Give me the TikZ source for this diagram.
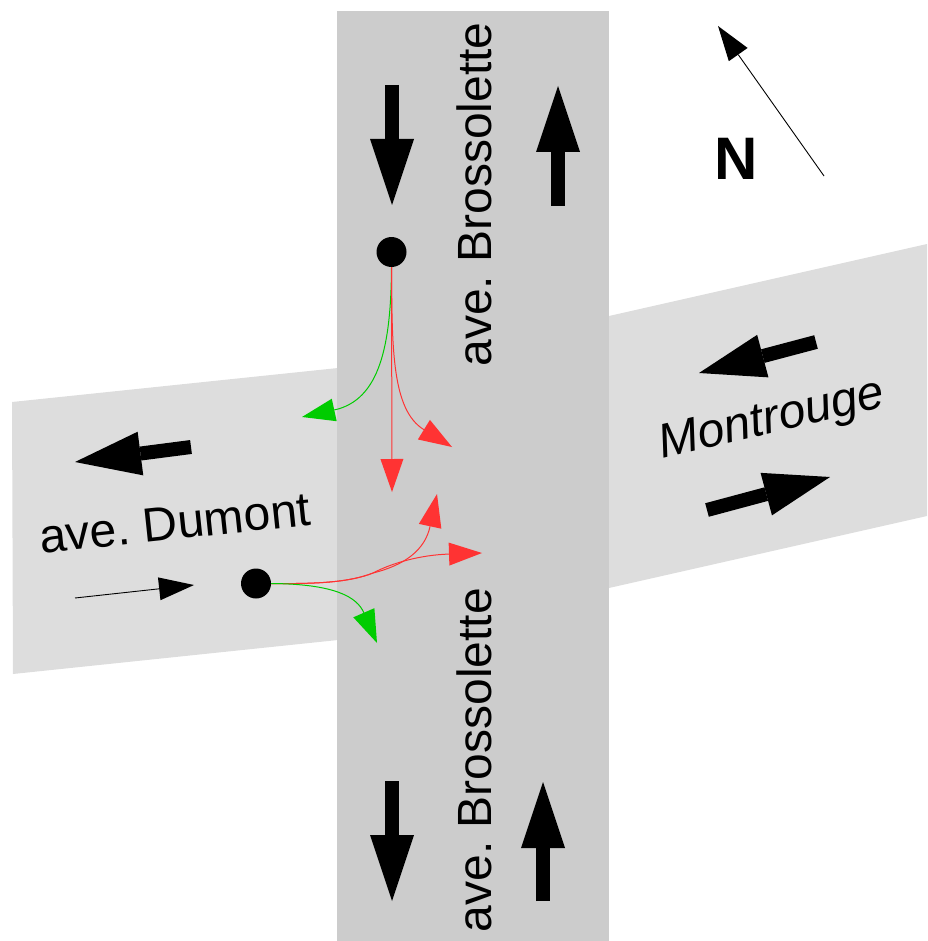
\documentclass[tikz,border=0pt]{standalone}
\usepackage{fontspec}
\setmainfont{Liberation Sans}[ItalicFont={Liberation Sans Italic},BoldFont={Liberation Sans Bold}]
\usetikzlibrary{arrows.meta}
\definecolor{roadmain}{HTML}{CCCCCC}
\definecolor{roadside}{HTML}{DDDDDD}
\definecolor{turnred}{HTML}{FF3333}
\definecolor{turngreen}{HTML}{00CC00}
\tikzset{
  bigarrow/.style={draw=black,line width=14pt,-{Triangle[length=66pt,width=44pt,line width=0pt]}},
  thinarrow/.style={draw=black,line width=0.9pt,-{Triangle[length=35pt,width=23pt,line width=0pt]}},
  redturn/.style={draw=turnred,line width=1pt,-{Triangle[length=33pt,width=23pt,line width=0pt,fill=turnred]}},
  greenturn/.style={draw=turngreen,line width=1pt,-{Triangle[length=33pt,width=23pt,line width=0pt,fill=turngreen]}},
  dotnode/.style={circle,fill=black,minimum size=30pt,inner sep=0pt},
  label/.style={inner sep=0pt,font=\fontsize{48pt}{50pt}\selectfont},
}
\begin{document}
\frenchspacing
\begin{tikzpicture}[x=1pt,y=-1pt]
\useasboundingbox (0,0) rectangle (927,941);
% roads
\fill[roadside] (12,402) -- (338,368) -- (338,640) -- (13,674) -- cycle;
\fill[roadside] (609,316) -- (927,244) -- (927,516) -- (609,588) -- cycle;
\fill[roadmain] (337,11) rectangle (609,941);
% labels
\node[label,rotate=90] (t1) at (474,194.5) {ave. Brossolette};
\node[label,rotate=90] (t2) at (474,760) {ave. Brossolette};
\node[label,rotate=6] (t3) at (175,523) {ave. Dumont};
\node[label,rotate=13,font=\fontsize{48pt}{50pt}\selectfont\itshape] (t4) at (772,421) {Montrouge};
\node[inner sep=0pt,font=\fontsize{60pt}{60pt}\selectfont\bfseries] (t5) at (736,159) {N};
% big arrows
\coordinate (a1s) at (392,85);   \coordinate (a1e) at (392,205);
\coordinate (a2s) at (558,206);  \coordinate (a2e) at (558,86);
\coordinate (a3s) at (392,781);  \coordinate (a3e) at (392,901);
\coordinate (a4s) at (543,901);  \coordinate (a4e) at (543,782);
\coordinate (a5s) at (191,447);  \coordinate (a5e) at (75,462);
\coordinate (a6s) at (816,342);  \coordinate (a6e) at (699,373);
\coordinate (a7s) at (707,510);  \coordinate (a7e) at (830,477);
\draw[bigarrow] (a1s) -- (a1e);
\draw[bigarrow] (a2s) -- (a2e);
\draw[bigarrow] (a3s) -- (a3e);
\draw[bigarrow] (a4s) -- (a4e);
\draw[bigarrow] (a5s) -- (a5e);
\draw[bigarrow] (a6s) -- (a6e);
\draw[bigarrow] (a7s) -- (a7e);
% thin arrows
\coordinate (n1) at (824,176);  \coordinate (n2) at (718,26);
\coordinate (w1) at (75,598);   \coordinate (w2) at (194,585);
\draw[thinarrow] (n1) -- (n2);
\draw[thinarrow] (w1) -- (w2);
% dots
\node[dotnode] (d1) at (391.5,252) {};
\node[dotnode] (d2) at (256,583.5) {};
% turn ends
\coordinate (g1) at (302,417);
\coordinate (r1) at (452,447);
\coordinate (r2) at (392,492);
\coordinate (r3) at (437,494);
\coordinate (r4) at (482,553);
\coordinate (r5) at (373,573);
\coordinate (g2) at (377,643);
% turns from north dot
\draw[greenturn] (d1.south) .. controls (391,345) and (380,400) .. (g1);
\draw[redturn] (d1.south) .. controls (392,350) and (392,410) .. (r1);
\draw[redturn] (d1.south) -- (r2);
% turns from west dot
\draw[redturn] (d2.east) .. controls (320,584) and (350,582) .. (r5) .. controls (405,565) and (425,550) .. (r3);
\draw[redturn] (d2.east) .. controls (320,584) and (350,582) .. (r5) .. controls (392,563) and (420,555) .. (r4);
\draw[greenturn] (d2.east) .. controls (335,584) and (357,597) .. (g2);
\end{tikzpicture}
\end{document}
